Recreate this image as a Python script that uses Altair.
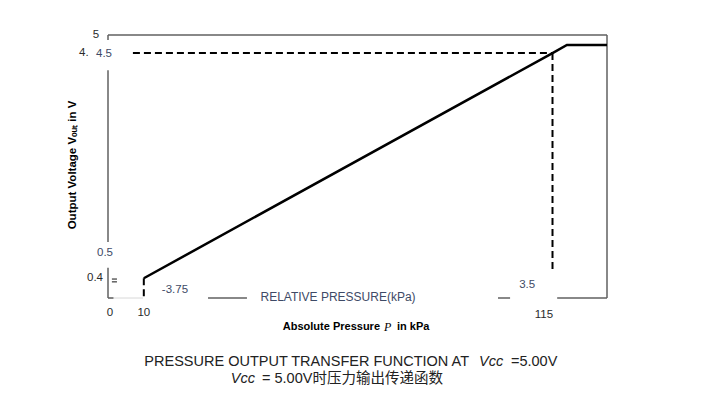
import altair as alt
import pandas as pd

# ---- transfer function curve (absolute pressure kPa, output V)
curve_kpa = [10, 115, 118.7, 129]
curve_v = [0.4, 4.5, 4.65, 4.65]

# ---- dashed guide lines
guide_x1 = [7.2, 115, 10]
guide_x2 = [115, 115, 10]
guide_y1 = [4.5, 4.5, 0.4]
guide_y2 = [4.5, 0.51, 0.04]

# ---- frame segments (dark grey)
frame_x1 = [0.8, 0.8, 0.8, 0.8, 129, 0.8, 26.5, 101.0, 116.2, 1.8, 1.8]
frame_x2 = [129, 0.8, 0.8, 0.8, 129, 2.2, 36.5, 104.1, 129, 3.1, 3.1]
frame_y1 = [4.83, 4.83, 4.19, 0.59, 4.83, 0.04, 0.04, 0.04, 0.04, 0.385, 0.335]
frame_y2 = [4.83, 4.74, 1.06, 0.04, 0.04, 0.04, 0.04, 0.04, 0.04, 0.385, 0.335]
# light grey baseline piece
light_x1 = [0.8]
light_x2 = [9.8]
light_y = [0.04]

# ---- tick labels
tick_text = ["5", "4.", "0.4", "0", "10", "115"]
tick_x = [-2.28, -5.4, -2.54, 1.3, 10, 112.8]
tick_y = [4.83, 4.5, 0.4, -0.235, -0.235, -0.27]

# ---- annotation labels
ann_text = ["4.5", "0.5", "-3.75", "3.5"]
ann_x = [-0.23, 0.03, 18.0, 108.5]
ann_y = [4.49, 0.86, 0.186, 0.277]
rel_text = ["RELATIVE PRESSURE(kPa)"]
rel_x = [59.9]
rel_y = [0.058]

xs = alt.Scale(domain=[0.8, 129], nice=False, zero=False)
ys = alt.Scale(domain=[0.04, 4.83], nice=False, zero=False)

curve_df = pd.DataFrame({"x": curve_kpa, "y": curve_v})
guide_df = pd.DataFrame({"x": guide_x1, "x2": guide_x2, "y": guide_y1, "y2": guide_y2})
frame_df = pd.DataFrame({"x": frame_x1, "x2": frame_x2, "y": frame_y1, "y2": frame_y2})
light_df = pd.DataFrame({"x": light_x1, "x2": light_x2, "y": light_y})
tick_df = pd.DataFrame({"x": tick_x, "y": tick_y, "t": tick_text})
ann_df = pd.DataFrame({"x": ann_x, "y": ann_y, "t": ann_text})
rel_df = pd.DataFrame({"x": rel_x, "y": rel_y, "t": rel_text})


def X(f="x"):
    return alt.X(f"{f}:Q", scale=xs, axis=None)


def Y(f="y"):
    return alt.Y(f"{f}:Q", scale=ys, axis=None)


light = alt.Chart(light_df).mark_rule(color="#d8d8d8", strokeWidth=1).encode(
    x=X(), x2="x2:Q", y=Y()
)
frame = alt.Chart(frame_df).mark_rule(color="#606060", strokeWidth=1.5).encode(
    x=X(), x2="x2:Q", y=Y(), y2="y2:Q"
)
guides = alt.Chart(guide_df).mark_rule(
    color="black", strokeWidth=2, strokeDash=[7, 4]
).encode(x=X(), x2="x2:Q", y=Y(), y2="y2:Q")
curve = alt.Chart(curve_df).mark_line(color="black", strokeWidth=2.5).encode(
    x=X(), y=Y()
)

FONT = "Liberation Sans"
ticks = alt.Chart(tick_df).mark_text(
    font=FONT, fontSize=11.5, color="#2a2a2a", baseline="middle", align="center"
).encode(x=X(), y=Y(), text="t:N")
anns = alt.Chart(ann_df).mark_text(
    font=FONT, fontSize=11.5, color="#3e4a66", baseline="middle", align="center"
).encode(x=X(), y=Y(), text="t:N")
rel = alt.Chart(rel_df).mark_text(
    font=FONT, fontSize=12, color="#3e4a66", baseline="middle", align="center"
).encode(x=X(), y=Y(), text="t:N")


def label(text, x, y, **kw):
    base = dict(font=FONT, fontSize=11, color="black", baseline="middle", align="left")
    base.update(kw)
    return alt.Chart(pd.DataFrame({"a": [0]})).mark_text(text=text, **base).encode(
        x=alt.value(x), y=alt.value(y)
    )


ytitle = label("Output Voltage Vₒᵤₜ in V", -35, 130, fontWeight="bold",
               angle=270, align="center", fontSize=11.5)
xt1 = label("Absolute Pressure", 272, 292, fontWeight="bold", align="right")
xt2 = label("P", 276, 292, font="Liberation Serif", fontStyle="italic", fontSize=12)
xt3 = label("in kPa", 289, 292, fontWeight="bold")

CAP = dict(font="Liberation Sans, Noto Sans CJK SC", fontSize=14.5, color="#222222",
           baseline="alphabetic")
c1a = label("PRESSURE OUTPUT TRANSFER FUNCTION AT", 361, 331, align="right", **CAP)
c1b = label("Vcc", 371, 331, fontStyle="italic", **CAP)
c1c = label("=5.00V", 403, 331, **CAP)
c2a = label("Vcc", 147, 348, align="right", fontStyle="italic", **CAP)
c2b = label("= 5.00V时压力输出传递函数", 154, 348, **CAP)

chart = alt.layer(
    light, frame, guides, curve, ticks, anns, rel,
    ytitle, xt1, xt2, xt3, c1a, c1b, c1c, c2a, c2b
).properties(
    width=499, height=263,
    autosize=alt.AutoSizeParams(type="none"),
    padding={"left": 100, "top": 27, "right": 108, "bottom": 109},
).configure_view(stroke=None)

chart.save("out.html", embed_options={"renderer": "svg", "actions": False})
